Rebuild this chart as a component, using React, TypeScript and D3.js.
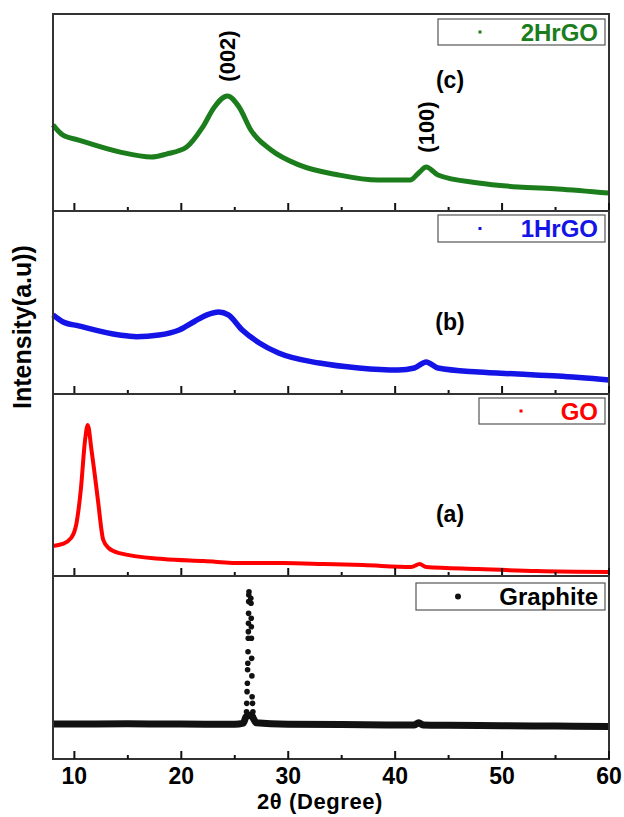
import React from "react";
import * as d3 from "d3";

// 2theta (deg), intensity (a.u., 0-100 within each panel)
const rgo2h: [number, number][] = [
  [8, 43.7], [8.9, 38.6], [10.4, 36], [14.2, 30], [17.2, 27.4], [18.6, 28.9],
  [20.5, 32.5], [22, 42.6], [23.1, 52.8], [24.3, 58.4], [25.4, 52.8], [26.5, 41.1],
  [28.4, 31], [31, 23.4], [34.7, 18.3], [38.4, 15.7], [41.4, 15.7], [42.2, 19.3],
  [42.9, 22.3], [44, 18.3], [47.8, 14.2], [51.5, 12.2], [55.2, 11.2], [60, 9.1],
];
const rgo1h: [number, number][] = [
  [8, 43.2], [8.9, 39.5], [10.4, 37.2], [14.2, 32.2], [15.8, 31.3], [17.9, 32.2],
  [19.8, 35], [21.3, 39.9], [22.4, 43.2], [23.5, 44.8], [24.4, 43.2], [25.7, 35],
  [27.3, 27.9], [29.1, 22.4], [32.9, 16.9], [36.6, 14.2], [40.3, 13.1], [41.8, 14.2],
  [42.9, 17.5], [44, 14.2], [47.8, 12], [51.5, 10.9], [55.2, 9.8], [60, 7.7],
];
const go: [number, number][] = [
  [8, 16.5], [8.9, 17.6], [9.7, 20.9], [10.2, 29.1], [10.6, 47.3], [11, 74.7],
  [11.25, 83], [11.6, 69.2], [11.85, 58.2], [12.2, 41.8], [12.7, 19.8], [13.2, 15.4],
  [14.2, 12.6], [18.3, 9.3], [22.1, 8.2], [25.8, 7.1], [29.5, 7.1], [33.3, 6.6],
  [37, 6], [41.5, 4.9], [42.3, 6.6], [42.9, 4.9], [47.8, 3.8], [53.3, 2.7], [60, 2.2],
];
const graphiteBase: [number, number][] = [
  [8, 19.1], [15, 19.2], [20, 19.1], [25, 19], [25.8, 19.6], [26.05, 23], [26.5, 24],
  [26.75, 22], [27, 19.8], [30, 19], [35, 18.8], [40, 18.6], [41.8, 18.6], [42.2, 19.8],
  [42.6, 18.6], [45, 18.4], [50, 18.2], [55, 18], [60, 17.7],
];
const graphitePeak: [number, number][] = [
  [26.1, 25.8], [26.12, 30.4], [26.15, 36.8], [26.18, 41.4], [26.2, 48.8], [26.22, 52.3],
  [26.24, 58.6], [26.26, 66], [26.27, 69.6], [26.28, 74.2], [26.29, 79.6], [26.3, 86],
  [26.31, 89.6], [26.33, 91.4], [26.5, 87.8], [26.52, 85.1], [26.54, 76.9], [26.55, 72.3],
  [26.56, 66], [26.58, 55], [26.6, 45.4], [26.62, 34], [26.66, 30.4], [26.7, 25.8],
  [26.74, 23.1],
];
const xTicks = [10, 20, 30, 40, 50, 60];
const xMinor = [15, 25, 35, 45, 55];

const W = 624, H = 817;
const left = 53, right = 609;
const font = "'Liberation Sans', Arial, sans-serif";

const x = d3.scaleLinear().domain([8, 60]).range([left, right]);

const panels = [
  { top: 14, bottom: 211, data: rgo2h, color: "#1c7d1c", name: "2HrGO", tag: "(c)", tagY: 80, box: [438, 605, 19, 45], mark: 480, sw: 5 },
  { top: 211, bottom: 394, data: rgo1h, color: "#1414e6", name: "1HrGO", tag: "(b)", tagY: 322, box: [438, 605, 215, 242], mark: 480, sw: 5.5 },
  { top: 394, bottom: 576, data: go, color: "#ff0000", name: "GO", tag: "(a)", tagY: 514, box: [479, 605, 398, 424], mark: 521, sw: 4 },
  { top: 576, bottom: 759, data: graphiteBase, color: "#111", name: "Graphite", tag: "", tagY: 0, box: [416, 605, 583, 610], mark: 458, sw: 7 },
];

export default function App() {
  return (
    <svg width={W} height={H} style={{ position: "absolute", left: 0, top: 0, background: "#fff" }} fontFamily={font}>
      {panels.map((p, i) => {
        const y = d3.scaleLinear().domain([0, 100]).range([p.bottom, p.top]);
        const line = d3.line<[number, number]>().x(d => x(d[0])).y(d => y(d[1])).curve(d3.curveMonotoneX);
        const my = (p.box[2] + p.box[3]) / 2;
        return (
          <g key={p.name}>
            <path d={line(p.data) ?? ""} fill="none" stroke={p.color} strokeWidth={p.sw} strokeLinejoin="round" />
            {i === 3 && graphitePeak.map((d, j) => (
              <circle key={j} cx={x(d[0])} cy={y(d[1])} r={2.8} fill="#111" />
            ))}
            <rect x={left} y={p.top} width={right - left} height={p.bottom - p.top} fill="none" stroke="#333" strokeWidth={2} />
            {xTicks.map(t => (
              <line key={"M" + t} x1={x(t)} x2={x(t)} y1={p.bottom} y2={p.bottom - 8} stroke="#111" strokeWidth={2} />
            ))}
            {xMinor.map(t => (
              <line key={"m" + t} x1={x(t)} x2={x(t)} y1={p.bottom} y2={p.bottom - 4} stroke="#111" strokeWidth={2} />
            ))}
            <rect x={p.box[0]} y={p.box[2]} width={p.box[1] - p.box[0]} height={p.box[3] - p.box[2]} fill="#fff" stroke="#555" strokeWidth={1.2} />
            {i === 3
              ? <circle cx={p.mark} cy={my} r={3} fill="#111" />
              : <rect x={p.mark - 1.5} y={my - 1.5} width={3} height={3} fill={p.color} />}
            <text x={p.box[1] - 7} y={my + 8.5} textAnchor="end" fontWeight="bold" fontSize={24} fill={i === 3 ? "#000" : p.color}>{p.name}</text>
            {p.tag && <text x={450} y={p.tagY + 8} textAnchor="middle" fontWeight="bold" fontSize={23} fill="#000">{p.tag}</text>}
          </g>
        );
      })}
      <text transform={`translate(${x(24.3) + 8},56) rotate(-90)`} textAnchor="middle" fontWeight="bold" fontSize={22}>(002)</text>
      <text transform={`translate(${x(42.9) + 8},127) rotate(-90)`} textAnchor="middle" fontWeight="bold" fontSize={22}>(100)</text>
      {xTicks.map(t => (
        <text key={t} x={x(t)} y={784} textAnchor="middle" fontWeight="bold" fontSize={23}>{t}</text>
      ))}
      <text x={320} y={809} textAnchor="middle" fontWeight="bold" fontSize={22} letterSpacing={0.6}>2θ (Degree)</text>
      <text transform="translate(31,327) rotate(-90)" textAnchor="middle" fontWeight="bold" fontSize={25}>Intensity(a.u))</text>
    </svg>
  );
}
